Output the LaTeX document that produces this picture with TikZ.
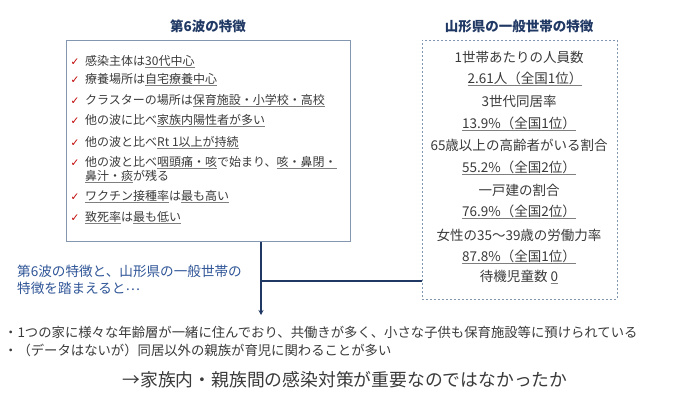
\documentclass[tikz,border=0pt]{standalone}
\usepackage{fontspec}
\setmainfont{Noto Sans CJK JP}
\newfontfamily\dejavu{DejaVu Sans}
\usetikzlibrary{arrows.meta}
\definecolor{navy}{HTML}{203864}
\definecolor{introblue}{HTML}{2F5597}
\definecolor{txt}{HTML}{3A3A3A}
\definecolor{boxb}{HTML}{8497B0}
\definecolor{ulc}{HTML}{7F7F7F}
\definecolor{chk}{HTML}{C00000}
\newcommand\ulx[1]{\setbox0=\hbox{#1}\rlap{\color{ulc}\rule[-2.4pt]{\wd0}{0.8pt}}\box0}
\tikzset{
  title/.style={font=\bfseries\fontsize{13.5}{15}\selectfont, text=navy, inner sep=0pt},
  item/.style={anchor=west, font=\fontsize{12}{14}\selectfont, text=txt, inner sep=0pt, align=left},
  tick/.style={font=\dejavu\fontsize{10.5}{11}\selectfont, text=chk, inner sep=0pt},
  rline/.style={font=\fontsize{13.5}{15}\selectfont, text=txt, inner sep=0pt},
  conn/.style={draw=navy, line width=1.4pt},
  btxt/.style={anchor=west, font=\fontsize{13.35}{18}\selectfont, text=txt, inner sep=0pt}
}
\begin{document}
\begin{tikzpicture}[x=1pt, y=-1pt]
\useasboundingbox (0,0) rectangle (690,400);
% titles
\node[title] (t1) at (208,26) {第6波の特徴};
\node[title] (t2) at (519,26) {山形県の一般世帯の特徴};
% left box
\node[draw=boxb, line width=0.8pt, minimum width=284pt, minimum height=201pt, anchor=north west, inner sep=0pt] (lbox) at (66,40) {};
\foreach \y [count=\i] in {62,80,101,121,143,163,197,218} {
  \node[tick] (c\i) at (75,\y) {✓};
}
\node[item] (i1) at (85,62) {感染主体は\ulx{30代中心}};
\node[item] (i2) at (85,80) {療養場所は\ulx{自宅療養中心}};
\node[item] (i3) at (85,101) {クラスターの場所は\ulx{保育施設・小学校・高校}};
\node[item] (i4) at (85,121) {他の波に比べ\ulx{家族内陽性者が多い}};
\node[item] (i5) at (85,143) {他の波と比べ\ulx{Rt 1以上が持続}};
\node[item, anchor=north west] (i6) at (85,156) {他の波と比べ\ulx{咽頭痛・咳}で始まり、\ulx{咳・鼻閉・}\\\ulx{鼻汁・痰}が残る};
\node[item] (i7) at (85,197) {\ulx{ワクチン接種率}は\ulx{最も高い}};
\node[item] (i8) at (85,218) {\ulx{致死率}は\ulx{最も低い}};
% right box
\node[draw=boxb, line width=0.8pt, dash pattern=on 2pt off 2pt, minimum width=195pt, minimum height=259pt, anchor=north west, inner sep=0pt] (rbox) at (422,40) {};
\node[rline] (r1) at (519,57) {1世帯あたりの人員数};
\node[rline] (r2) at (525,79) {\ulx{2.61人（全国1位）}};
\node[rline] (r3) at (519,101) {3世代同居率};
\node[rline] (r4) at (519,124) {\ulx{13.9\%（全国1位）}};
\node[rline] (r5) at (519,145) {65歳以上の高齢者がいる割合};
\node[rline] (r6) at (519,168) {\ulx{55.2\%（全国2位）}};
\node[rline] (r7) at (519,190) {一戸建の割合};
\node[rline] (r8) at (519,212) {\ulx{76.9\%（全国2位）}};
\node[rline] (r9) at (519,235) {女性の35〜39歳の労働力率};
\node[rline] (r10) at (519,257) {\ulx{87.8\%（全国1位）}};
\node[rline] (r11) at (519,277) {待機児童数 \ulx{0}};
% connectors
\coordinate (tip) at (261,315);
\coordinate (lj) at (261,281);
\draw[conn, -{Stealth[length=5pt,width=5pt]}] (lbox.south -| tip) -- (tip);
\draw[conn] (rbox.west |- lj) -- (lj);
% intro text
\node[anchor=north west, font=\fontsize{13.6}{17}\selectfont, text=introblue, inner sep=0pt, align=left] (intro) at (17,265) {第6波の特徴と、山形県の一般世帯の\\特徴を踏まえると\raisebox{3.5pt}{…}};
% bottom bullets
\node[btxt] (b1) at (4,332) {・1つの家に様々な年齢層が一緒に住んでおり、共働きが多く、小さな子供も保育施設等に預けられている};
\node[btxt] (b2) at (4,350) {・（データはないが）同居以外の親族が育児に関わることが多い};
\node[font=\fontsize{17.8}{20}\selectfont, text=txt, inner sep=0pt] (concl) at (345,380) {→家族内・親族間の感染対策が重要なのではなかったか};
\end{tikzpicture}
\end{document}
